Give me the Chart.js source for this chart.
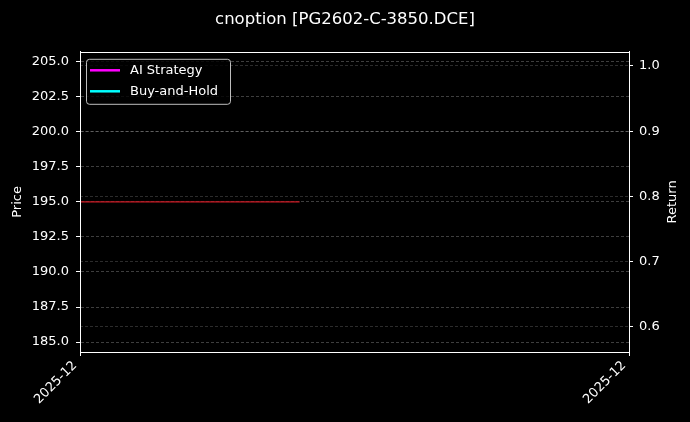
<!DOCTYPE html>
<html>
<head>
<meta charset="utf-8">
<script src="https://cdn.jsdelivr.net/npm/chart.js@4.4.1/dist/chart.umd.min.js"></script>
<style>
html,body{margin:0;padding:0;background:#000;}
#wrap{width:690px;height:422px;position:relative;}
</style>
</head>
<body>
<div id="wrap"><canvas id="c" width="690" height="422"></canvas></div>
<script>
// data
var dates = ["2025-12-01","2025-12-02","2025-12-03","2025-12-04","2025-12-05",
	"2025-12-08","2025-12-09","2025-12-10","2025-12-11","2025-12-12","2025-12-15"];
var price = [195.0,195.0,195.0,195.0,195.0,null,null,null,null,null,null];
var aiStrategy = [null,null,null,null,null,null,null,null,null,null,null];
var buyHold = [null,null,null,null,null,null,null,null,null,null,null];
var priceTicks = [185.0,187.5,190.0,192.5,195.0,197.5,200.0,202.5,205.0];
var returnTicks = [0.6,0.7,0.8,0.9,1.0];
var xTickLabels = ["2025-12","2025-12"];

var FONT = "'DejaVu Sans', sans-serif";

// white box round the plot, legend inside the top left corner, right axis title
var frame = {
	id: "frame",
	afterDraw: function (chart) {
		var a = chart.chartArea, ctx = chart.ctx;
		ctx.save();
		ctx.setLineDash([]);
		ctx.strokeStyle = "#ffffff";
		ctx.lineWidth = 1;
		ctx.strokeRect(Math.round(a.left) + 0.5, Math.round(a.top) + 0.5,
			Math.round(a.right - a.left), Math.round(a.bottom - a.top));

		var items = chart.data.datasets.filter(function (d) { return d.inLegend; });
		var x = a.left + 6, y = a.top + 7, w = 144, h = 45;
		ctx.beginPath();
		ctx.roundRect(x + 0.5, y + 0.5, w, h, 3);
		ctx.fillStyle = "rgba(0,0,0,0.8)";
		ctx.fill();
		ctx.strokeStyle = "rgba(210,210,210,0.9)";
		ctx.stroke();
		ctx.font = "13px " + FONT;
		ctx.textBaseline = "middle";
		items.forEach(function (d, i) {
			var ly = y + 11.5 + i * 21;
			ctx.beginPath();
			ctx.moveTo(x + 4, ly);
			ctx.lineTo(x + 34, ly);
			ctx.strokeStyle = d.borderColor;
			ctx.lineWidth = 2.5;
			ctx.stroke();
			ctx.fillStyle = "#ffffff";
			ctx.fillText(d.label, x + 44, ly);
		});

		// "Return" reads bottom to top, like the left one
		ctx.translate(chart.width - 17, (a.top + a.bottom) / 2);
		ctx.rotate(-Math.PI / 2);
		ctx.textAlign = "center";
		ctx.fillText("Return", 0, 0);
		ctx.restore();
	}
};

new Chart(document.getElementById("c"), {
	type: "line",
	data: {
		labels: dates,
		datasets: [
			{ label: "Price", data: price, yAxisID: "y", borderColor: "rgb(205,25,35)",
				borderWidth: 1.2, pointRadius: 0, inLegend: false },
			{ label: "AI Strategy", data: aiStrategy, yAxisID: "y1", borderColor: "#ff00ff",
				borderWidth: 2, pointRadius: 0, inLegend: true },
			{ label: "Buy-and-Hold", data: buyHold, yAxisID: "y1", borderColor: "#00ffff",
				borderWidth: 2, pointRadius: 0, inLegend: true }
		]
	},
	options: {
		responsive: false,
		animation: false,
		layout: { padding: 0 },
		plugins: {
			legend: { display: false },
			tooltip: { enabled: false },
			title: {
				display: true,
				text: "cnoption [PG2602-C-3850.DCE]",
				color: "#ffffff",
				font: { family: FONT, size: 16.5, weight: "normal" },
				padding: { top: 10, bottom: 22 }
			}
		},
		scales: {
			x: {
				type: "category",
				offset: false,
				afterFit: function (s) { s.height = 70; },
				afterBuildTicks: function (s) {
					s.ticks = [{ value: 0 }, { value: dates.length - 1 }];
				},
				grid: { drawOnChartArea: false, drawTicks: true, tickLength: 4, tickColor: "#ffffff" },
				border: { color: "#ffffff" },
				ticks: {
					autoSkip: false, minRotation: 45, maxRotation: 45, padding: 2, labelOffset: -5,
					color: "#ffffff", font: { family: FONT, size: 13 },
					callback: function (v, i) { return xTickLabels[i]; }
				}
			},
			y: {
				position: "left",
				min: 184.29, max: 205.71,
				afterFit: function (s) { s.width = 80; },
				afterBuildTicks: function (s) {
					s.ticks = priceTicks.map(function (v) { return { value: v }; });
				},
				grid: { color: "rgba(255,255,255,0.35)", lineWidth: 0.7, tickLength: 4,
					tickColor: "#ffffff", tickBorderDash: [], tickWidth: 1 },
				border: { color: "#ffffff", dash: [3, 2] },
				ticks: { padding: 7, color: "#ffffff", font: { family: FONT, size: 13 },
					callback: function (v) { return Number(v).toFixed(1); } },
				title: { display: true, text: "Price", color: "#ffffff",
					font: { family: FONT, size: 13 }, padding: { top: 10, bottom: 0 } }
			},
			y1: {
				position: "right",
				min: 0.5617, max: 1.0215,
				afterFit: function (s) { s.width = 61; },
				afterBuildTicks: function (s) {
					s.ticks = returnTicks.map(function (v) { return { value: v }; });
				},
				grid: { color: "rgba(255,255,255,0.25)", lineWidth: 0.7, tickLength: 4,
					tickColor: "#ffffff", tickBorderDash: [], tickWidth: 1 },
				border: { color: "#ffffff", dash: [3, 2] },
				ticks: { padding: 6, color: "#ffffff", font: { family: FONT, size: 13 },
					callback: function (v) { return Number(v).toFixed(1); } },
				title: { display: false }
			}
		}
	},
	plugins: [frame]
});
</script>
</body>
</html>
